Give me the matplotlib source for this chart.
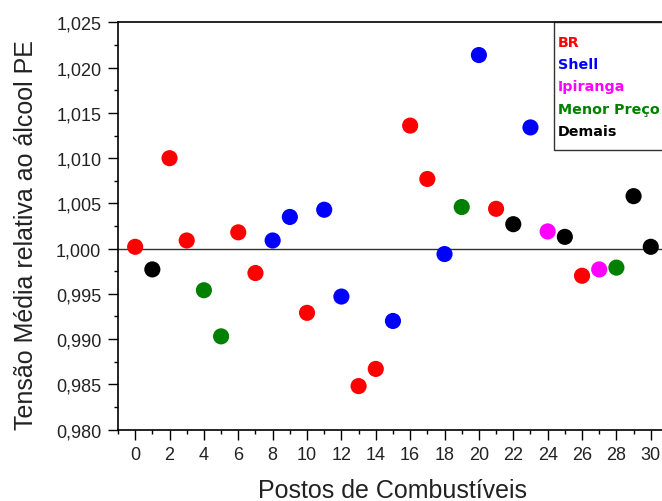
import matplotlib
matplotlib.use("Agg")
import matplotlib.pyplot as plt
from matplotlib.lines import Line2D
from matplotlib.ticker import MultipleLocator, FuncFormatter

plt.rcParams['font.family'] = ['Liberation Sans', 'DejaVu Sans']

# posto number, mean voltage relative to the PE alcohol, and the brand of each posto
postos = list(range(31))
tensao = [1.0002, 0.9977, 1.0100, 1.0009, 0.9954, 0.9903, 1.0018, 0.9973,
          1.0009, 1.0035, 0.9929, 1.0043, 0.9947, 0.9848, 0.9867, 0.9920,
          1.0136, 1.0077, 0.9994, 1.0046, 1.0214, 1.0044, 1.0027, 1.0134,
          1.0019, 1.0013, 0.9970, 0.9977, 0.9979, 1.0058, 1.0002]
bandeira = ['BR', 'Demais', 'BR', 'BR', 'Menor Preço', 'Menor Preço', 'BR', 'BR',
            'Shell', 'Shell', 'BR', 'Shell', 'Shell', 'BR', 'BR', 'Shell',
            'BR', 'BR', 'Shell', 'Menor Preço', 'Shell', 'BR', 'Demais', 'Shell',
            'Ipiranga', 'Demais', 'BR', 'Ipiranga', 'Menor Preço', 'Demais', 'Demais']

grupos = ['BR', 'Shell', 'Ipiranga', 'Menor Preço', 'Demais']
cores = ['#ff0000', '#0000ff', '#ff00ff', '#008000', '#000000']

fig = plt.figure(figsize=(6.62, 5.02), dpi=100)
ax = fig.add_axes([0.1782, 0.1424, 0.8308, 0.8108])

for g, c in zip(grupos, cores):
    xs = [p for p, b in zip(postos, bandeira) if b == g]
    ys = [t for t, b in zip(tensao, bandeira) if b == g]
    ax.scatter(xs, ys, s=135, color=c, edgecolors='none', zorder=3)

ax.axhline(1.0, color='#333333', lw=1.0, zorder=2)

ax.set_xlim(-1, 31)
ax.set_ylim(0.980, 1.025)
ax.xaxis.set_major_locator(MultipleLocator(2))
ax.xaxis.set_minor_locator(MultipleLocator(1))
ax.yaxis.set_major_locator(MultipleLocator(0.005))
ax.yaxis.set_minor_locator(MultipleLocator(0.0025))
ax.yaxis.set_major_formatter(FuncFormatter(lambda v, p: f"{v:.3f}".replace('.', ',')))
ax.tick_params(which='major', direction='out', length=7, width=1, labelsize=13,
               labelcolor='#222222', pad=5)
ax.tick_params(which='minor', direction='out', length=3, width=1)
ax.tick_params(top=False, right=False)
for s in ax.spines.values():
    s.set_linewidth(1.2)

ax.set_xlabel('Postos de Combustíveis', fontsize=18, color='#222222', va='top')
ax.set_ylabel('Tensão Média relativa ao álcool PE', fontsize=18, color='#222222')
ax.xaxis.set_label_coords(0.5, -0.118)
ax.yaxis.set_label_coords(-0.146, 0.48)

handles = [Line2D([], [], linestyle='none') for _ in grupos]
leg = ax.legend(handles, grupos, loc='upper left', bbox_to_anchor=(0.7927, 1.0),
                borderaxespad=0, handlelength=0, handletextpad=-0.55, labelcolor=cores,
                prop={'family': 'DejaVu Sans', 'weight': 'bold', 'size': 10.3},
                frameon=True, fancybox=False, borderpad=0.85, labelspacing=0.58)
leg.get_frame().set_edgecolor('black')
leg.get_frame().set_linewidth(1.0)

fig.savefig('out.png', dpi=100)
